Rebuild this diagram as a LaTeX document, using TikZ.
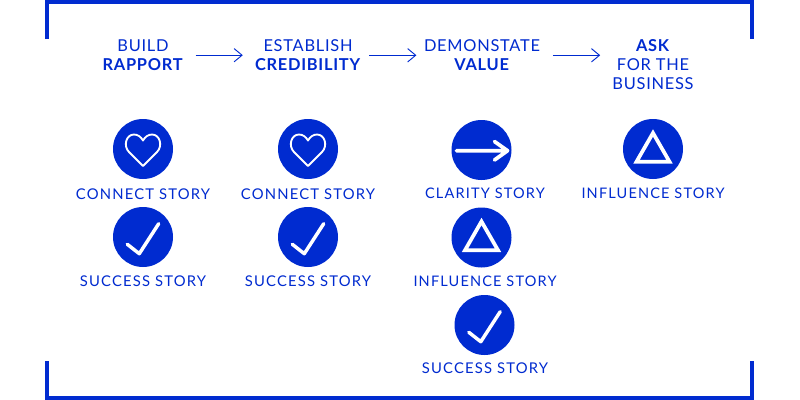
\documentclass[tikz,border=0pt]{standalone}
\usepackage{fontspec}
\setmainfont{Lato}[LetterSpace=8]
\newfontfamily\headfont{Lato}[LetterSpace=4.5]
\usepackage{tikz}
\usetikzlibrary{arrows.meta,calc}
\definecolor{StoryBlue}{HTML}{002BD0}

\begin{document}
\begin{tikzpicture}[x=0.75pt,y=-0.75pt,
  every node/.style={font=\fontsize{11.1}{14.25}\selectfont,align=center,text=StoryBlue,inner sep=0pt},
  bracket/.style={draw=StoryBlue,line width=3pt,line cap=butt,miter limit=10},
  badge/.style={circle,fill=StoryBlue,minimum size=45pt},
  title/.style={anchor=north,font=\headfont\fontsize{12.3}{14.25}\selectfont},
  caption/.style={anchor=center},
  slimcaption/.style={caption,font=\fontsize{10.9}{14.25}\selectfont},
  flow/.style={draw=StoryBlue,line width=0.7pt,-{Straight Barb[length=6pt,width=10pt,line width=0.7pt]}},
  icon/.style={draw=white,line join=miter},
  heart/.pic={\draw[icon,line width=1.4pt,line join=round]
    (0,17) -- (-14,3) .. controls (-20,-3) and (-17,-14.5) .. (-9,-14.5)
    .. controls (-5,-14.5) and (-2,-12) .. (0,-8.5)
    .. controls (2,-12) and (5,-14.5) .. (9,-14.5)
    .. controls (17,-14.5) and (20,-3) .. (14,3) -- cycle;},
  tick/.pic={\draw[icon,line width=2.6pt,line cap=round,line join=round]
    (-15.7,7.3) -- (-3.7,16.7) -- (15.7,-13.3);},
  tri/.pic={\draw[icon,line width=2.8pt] (0,-16) -- (16.5,12.7) -- (-16.5,12.7) -- cycle;},
  pointer/.pic={\draw[icon,line width=2.8pt,line cap=round,line join=round]
    (-25,0.7) -- (26,0.7) (13,-8.5) -- (26,0.7) -- (13,10);}]
  \useasboundingbox (0,0) rectangle (800,400);
  \fill[white] (0,0) rectangle (800,400);
  % frame corners
  \draw[bracket] (47,39) -- (47,2) -- (752,2) -- (752,39);
  \draw[bracket] (47,361) -- (47,398) -- (752,398) -- (752,361);
  % headings
  \node[title] (build) at (143,39.5) {BUILD\\\textbf{RAPPORT}};
  \node[title] (establish) at (308,39.5) {ESTABLISH\\\textbf{CREDIBILITY}};
  \node[title] (demo) at (482,39.5) {DEMONSTATE\\\textbf{VALUE}};
  \node[title] (ask) at (653,39.5) {\textbf{ASK}\\FOR THE\\BUSINESS};
  \draw[flow,shorten <=9pt,shorten >=9pt] (build.east) -- (build.east -| establish.west);
  \draw[flow,shorten <=6pt,shorten >=5.5pt] (establish.east) -- (establish.east -| demo.west);
  \draw[flow,shorten <=9.5pt,shorten >=9pt] (demo.east) -- (demo.east -| ask.west);
  % badges
  \foreach \name/\xpos/\ypos/\kind in {
    a/143/149/heart,b/143/237/tick,
    c/308/149/heart,d/308/237/tick,
    e/481.5/150/pointer,f/481.5/237.5/tri,g/484.5/325/tick,
    h/653/149/tri}{
    \node[badge] (\name) at (\xpos,\ypos) {};
    \pic at (\name) {\kind};
  }
  \node[caption] (capa) at (143,193.7) {CONNECT STORY};
  \node[caption] (capb) at (143,281.5) {SUCCESS STORY};
  \node[caption] (capc) at (308,193.7) {CONNECT STORY};
  \node[caption] (capd) at (308,281.5) {SUCCESS STORY};
  \node[slimcaption] (cape) at (485,193.7) {CLARITY STORY};
  \node[slimcaption] (capf) at (485,281.5) {INFLUENCE STORY};
  \node[caption] (capg) at (485,368.5) {SUCCESS STORY};
  \node[slimcaption] (caph) at (653,193.7) {INFLUENCE STORY};
\end{tikzpicture}
\end{document}
